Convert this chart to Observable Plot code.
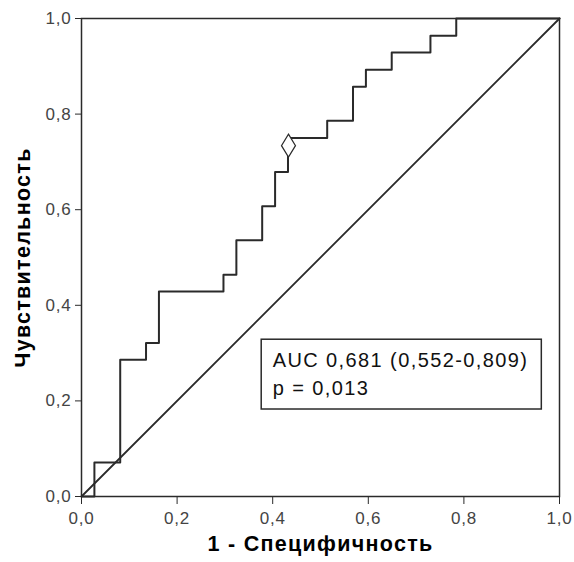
<!DOCTYPE html>
<html>
<head>
<meta charset="utf-8">
<script src="https://cdn.jsdelivr.net/npm/d3@7"></script>
<script src="https://cdn.jsdelivr.net/npm/@observablehq/plot@0.6"></script>
<style>
  html, body { margin: 0; padding: 0; background: #fff; }
  #chart svg { display: block; }
</style>
</head>
<body>
<div id="chart"></div>
<script>
// ROC curve vertices (1 - specificity, sensitivity), drawn as step-after
const fpr = [0, 0.027, 0.081, 0.135, 0.162, 0.297, 0.324, 0.378, 0.405, 0.432, 0.514, 0.568, 0.595, 0.649, 0.730, 0.784, 1];
const tpr = [0, 0.071, 0.286, 0.321, 0.429, 0.464, 0.536, 0.607, 0.679, 0.750, 0.786, 0.857, 0.893, 0.929, 0.964, 1, 1];
// reference diagonal
const diagX = [0, 1];
const diagY = [0, 1];
// optimal cut-off marker
const cutX = [0.433];
const cutY = [0.734];
// tick values
const ticks = [0, 0.2, 0.4, 0.6, 0.8, 1.0];
// annotation
const annoLines = ["AUC 0,681 (0,552-0,809)", "p = 0,013"];
const annoBox = {x1: 0.377, x2: 0.963, y1: 0.182, y2: 0.328};
const annoText = {x: 0.400, y: 0.311};
const xTitle = "1 - Специфичность";
const yTitle = "Чувствительность";

const roc = fpr.map((x, i) => ({x, y: tpr[i]}));
const diag = diagX.map((x, i) => ({x, y: diagY[i]}));
const cut = cutX.map((x, i) => ({x, y: cutY[i]}));

const fmt = d => d.toFixed(1).replace(".", ",");
const ink = "#2a2a2a";

const diamond = {
  draw(ctx) {
    const w = 7, h = 11.5;
    ctx.moveTo(0, -h);
    ctx.lineTo(w, 0);
    ctx.lineTo(0, h);
    ctx.lineTo(-w, 0);
    ctx.closePath();
  }
};

const chart = Plot.plot({
  width: 574,
  height: 562,
  marginLeft: 81,
  marginRight: 15,
  marginTop: 18,
  marginBottom: 66,
  style: {fontFamily: "'Liberation Sans', Arial, sans-serif", background: "#fff", color: ink},
  x: {domain: [0, 1], ticks, tickFormat: fmt},
  y: {domain: [0, 1], ticks, tickFormat: fmt},
  marks: [
    Plot.line(diag, {x: "x", y: "y", stroke: ink, strokeWidth: 1.8}),
    Plot.line(roc, {x: "x", y: "y", curve: "step-after", stroke: ink, strokeWidth: 2}),
    Plot.dot(cut, {x: "x", y: "y", symbol: diamond, fill: "#fff", stroke: ink, strokeWidth: 1.2}),
    Plot.rect([annoBox], {x1: "x1", x2: "x2", y1: "y1", y2: "y2", fill: "none", stroke: ink, strokeWidth: 1.5}),
    Plot.text([annoLines.join("\n")], {x: () => annoText.x, y: () => annoText.y, text: d => d, textAnchor: "start", lineAnchor: "top", lineHeight: 1.38, fontSize: 20, fill: "#111"}),
    Plot.frame({stroke: ink, strokeWidth: 1.5}),
    Plot.axisX({ticks, tickFormat: fmt, tickSize: 8, tickPadding: 7, fontSize: 17, label: null, stroke: ink, color: "#444"}),
    Plot.axisY({ticks, tickFormat: fmt, tickSize: 6, tickPadding: 4, fontSize: 17, label: null, stroke: ink, color: "#444"}),
    Plot.text([yTitle], {frameAnchor: "left", textAnchor: "middle", rotate: -90, dx: -58, text: d => d, fontSize: 21.5, fontWeight: "bold", fill: "#000"}),
    Plot.text([xTitle], {frameAnchor: "bottom", textAnchor: "middle", dy: 54, text: d => d, fontSize: 21.5, fontWeight: "bold", fill: "#000"})
  ]
});
document.getElementById("chart").appendChild(chart);

// widen glyph spacing to match the reference's rendering
const textGroups = chart.querySelectorAll('g[aria-label="text"]');
const spacing = [1.4, 1.3, 1.3];
textGroups.forEach((g, i) => g.setAttribute("letter-spacing", spacing[i] ?? 1));
chart.querySelectorAll('g[aria-label$="tick label"]').forEach(g => g.setAttribute("letter-spacing", 0.8));
</script>
</body>
</html>
